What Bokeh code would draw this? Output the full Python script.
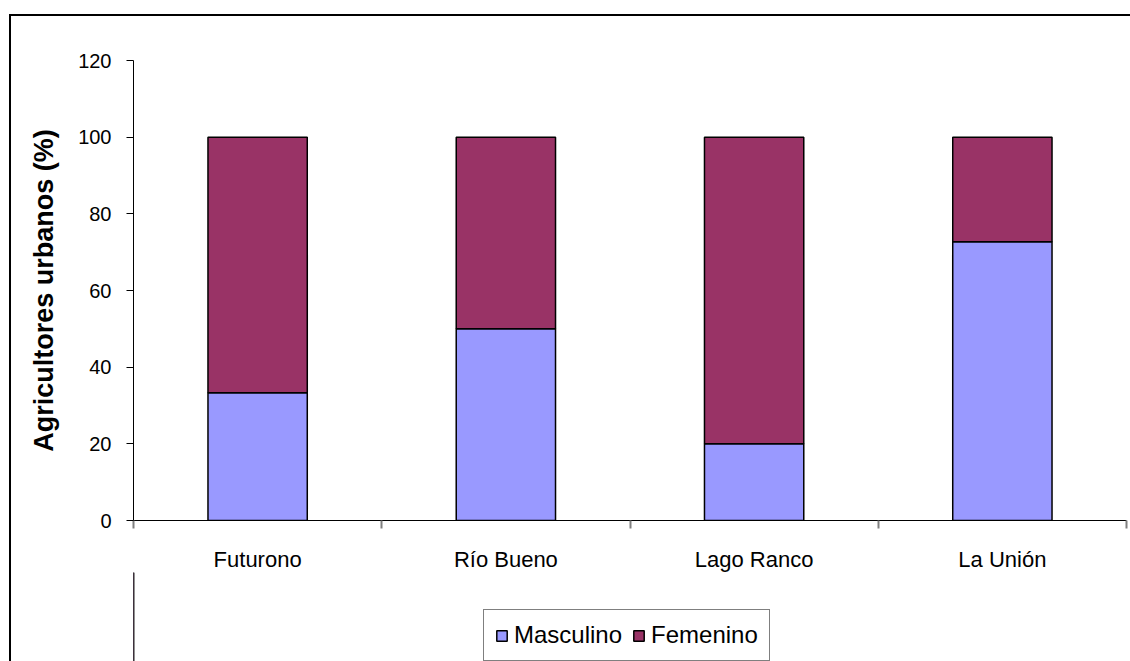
from bokeh.plotting import figure
from bokeh.layouts import column
from bokeh.models import ColumnDataSource, FixedTicker, Range1d, Legend, LegendItem
from bokeh.embed import file_html
from bokeh.resources import INLINE

categories = ["Futurono", "Río Bueno", "Lago Ranco", "La Unión"]
masculino = [33.3, 50.0, 20.0, 72.7]
femenino = [66.7, 50.0, 80.0, 27.3]
y_ticks = [0, 20, 40, 60, 80, 100, 120]
series_names = ["Masculino", "Femenino"]

FONT = "Liberation Sans"
C_M = "#9999FF"
C_F = "#993366"

xs = [i + 0.5 for i in range(len(categories))]
src = ColumnDataSource(dict(x=xs, m=masculino, f=femenino,
                            top_f=[a + b for a, b in zip(masculino, femenino)]))

p = figure(frame_width=991, frame_height=458,
           x_range=Range1d(0, len(categories)), y_range=Range1d(0, 120),
           output_backend="svg", toolbar_location=None,
           min_border_left=122, min_border_top=44, min_border_right=6,
           min_border_bottom=0)
p.outline_line_color = None
p.xgrid.visible = False
p.ygrid.visible = False
p.background_fill_color = "white"
p.border_fill_color = "white"
p.margin = (14, 0, 0, 9)
p.styles = {"border-top": "2px solid black", "border-left": "2px solid black"}

p.vbar(x="x", width=0.4, bottom=0, top="m", source=src,
       fill_color=C_M, line_color="black", line_width=1.5)
p.vbar(x="x", width=0.4, bottom="m", top="top_f", source=src,
       fill_color=C_F, line_color="black", line_width=1.5)

# y axis
ya = p.yaxis[0]
ya.ticker = FixedTicker(ticks=y_ticks)
ya.axis_label = "Agricultores urbanos (%)"
ya.axis_label_text_font = FONT
ya.axis_label_text_font_style = "bold"
ya.axis_label_text_font_size = "27px"
ya.axis_label_text_color = "black"
ya.axis_label_standoff = 16
ya.major_label_text_font = FONT
ya.major_label_text_font_size = "20px"
ya.major_label_text_color = "black"
ya.major_label_standoff = 15
ya.major_tick_in = 0
ya.major_tick_out = 7
ya.minor_tick_line_color = None
ya.axis_line_color = "black"

# x axis
xa = p.xaxis[0]
xa.ticker = FixedTicker(ticks=xs, minor_ticks=list(range(len(categories) + 1)))
xa.major_label_overrides = {x: c for x, c in zip(xs, categories)}
xa.major_label_text_font = FONT
xa.major_label_text_font_size = "22px"
xa.major_label_text_color = "black"
xa.major_label_standoff = 18
xa.major_tick_in = 0
xa.major_tick_out = 0
xa.minor_tick_in = 0
xa.minor_tick_out = 8
xa.minor_tick_line_color = "#808080"
xa.minor_tick_line_width = 2
xa.axis_line_color = "black"

# legend strip below the chart (same frame geometry as the chart)
p2 = figure(frame_width=991, frame_height=90,
            min_border_left=122, min_border_right=6,
            min_border_top=0, min_border_bottom=0,
            x_range=Range1d(0, 1), y_range=Range1d(0, 1),
            x_axis_location=None, y_axis_location=None,
            output_backend="svg", toolbar_location=None)
p2.outline_line_color = None
p2.xgrid.visible = False
p2.ygrid.visible = False
p2.background_fill_color = "white"
p2.border_fill_color = "white"
p2.margin = (0, 0, 0, 9)
p2.styles = {"border-left": "2px solid black"}

# legend-key bars placed outside the visible range
key_src = ColumnDataSource(dict(x=[-10.0], top=[1.0]))
lr_m = p2.vbar(x="x", width=0.1, top="top", source=key_src,
               fill_color=C_M, line_color="black", line_width=1.5)
lr_f = p2.vbar(x="x", width=0.1, top="top", source=key_src,
               fill_color=C_F, line_color="black", line_width=1.5)

legend = Legend(items=[LegendItem(label=series_names[0], renderers=[lr_m]),
                       LegendItem(label=series_names[1], renderers=[lr_f])],
                orientation="horizontal", location=(350, 1),
                label_text_font=FONT, label_text_font_size="24px",
                label_text_color="black",
                glyph_width=13, glyph_height=13, label_standoff=6,
                spacing=10, padding=11, margin=0,
                border_line_color="black", border_line_width=1)
p2.add_layout(legend, "center")

layout = column(p, p2, spacing=0)
open("out.html", "w").write(file_html(layout, INLINE))
